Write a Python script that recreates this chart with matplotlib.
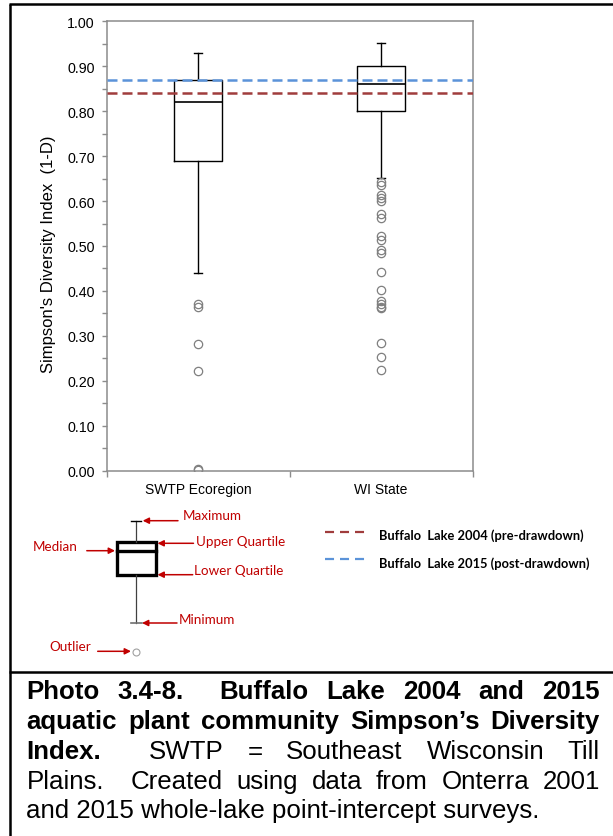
import numpy as np
import matplotlib.pyplot as plt
from matplotlib.patches import Rectangle

plt.rcParams['font.family'] = 'Liberation Sans'
plt.rcParams['lines.scale_dashes'] = False

# ---- data ----
groups = ['SWTP Ecoregion', 'WI State']
whisker_lo = [0.44, 0.651]
q1 = [0.69, 0.80]
median = [0.82, 0.86]
q3 = [0.87, 0.90]
whisker_hi = [0.93, 0.952]
swtp_outliers = [0.371, 0.364, 0.283, 0.222, 0.004, 0.001]
wi_outliers = [0.643, 0.636, 0.613, 0.606, 0.601, 0.571, 0.562, 0.522, 0.514,
               0.492, 0.484, 0.443, 0.401, 0.378, 0.371, 0.365, 0.361,
               0.285, 0.254, 0.223]
lake_2004 = 0.84   # pre-drawdown
lake_2015 = 0.87   # post-drawdown

RED = '#c00000'
C2004 = '#a03c3c'
C2015 = '#5b93d9'
W, H = 613, 837

fig = plt.figure(figsize=(W / 100, H / 100), dpi=100)

# overlay in pixel coords for frame, key diagram and caption
ov = fig.add_axes([0, 0, 1, 1])
ov.set_xlim(0, W)
ov.set_ylim(H, 0)
ov.axis('off')

ax = fig.add_axes([106.5 / W, (H - 471.7) / H, 366 / W, 449.4 / H])

stats = []
fliers = [swtp_outliers, wi_outliers]
for i, g in enumerate(groups):
    stats.append(dict(label=g, med=median[i], q1=q1[i], q3=q3[i],
                      whislo=whisker_lo[i], whishi=whisker_hi[i], fliers=fliers[i]))

ax.bxp(stats, positions=[1, 2], widths=0.26, capwidths=0.04, showfliers=True,
       boxprops=dict(color='black', lw=1.0),
       medianprops=dict(color='black', lw=1.2),
       whiskerprops=dict(color='black', lw=1.0),
       capprops=dict(color='black', lw=1.0),
       flierprops=dict(marker='o', mfc='none', mec='#7f7f7f', ms=6, mew=0.9, ls='none'))

ax.axhline(lake_2015, color=C2015, lw=1.8, dashes=(7.2, 3.6), zorder=5)
ax.axhline(lake_2004, color=C2004, lw=1.8, dashes=(7.2, 3.6), zorder=5)

ax.set_xlim(0.5, 2.5)
ax.set_ylim(0, 1.0)
ax.set_yticks(np.arange(0, 1.01, 0.1))
ax.set_yticks(np.arange(0.05, 1.0, 0.1), minor=True)
ax.yaxis.set_major_formatter(plt.FuncFormatter(lambda v, _: f'{v:.2f}'))
ax.set_xticks([1, 2], groups)
ax.set_xticks([0.5, 1.5, 2.5], minor=True)
ax.tick_params(axis='y', which='both', direction='out', length=3.5, width=1,
               color='#8c8c8c', labelsize=10.3, pad=5)
ax.tick_params(axis='x', which='major', length=0, labelsize=10, pad=8)
ax.tick_params(axis='x', which='minor', direction='out', length=4, width=1, color='#8c8c8c')
for s in ax.spines.values():
    s.set_color('#8c8c8c')
    s.set_linewidth(1.1)

fig.text(49 / W, 1 - 254 / H, "Simpson's Diversity Index  (1-D)", rotation=90,
         ha='center', va='center', fontsize=12)

# ---- frame ----
ov.plot([9, W], [5, 5], color='black', lw=1.8, solid_capstyle='butt')
ov.plot([10, 10], [5, H], color='black', lw=1.8, solid_capstyle='butt')
ov.plot([9, W], [673.3, 673.3], color='black', lw=1.8, solid_capstyle='butt')

# ---- box key diagram ----
ov.plot([136, 136], [521.7, 543.3], color='#404040', lw=0.9)
ov.plot([136, 136], [576, 624], color='#404040', lw=0.9)
ov.plot([131, 141], [521.7, 521.7], color='black', lw=1.0)
ov.plot([131, 141.5], [624, 624], color='#707070', lw=1.2)
ov.add_patch(Rectangle((116.5, 543.3), 39.9, 32.7, fill=False, ec='black', lw=2.4))
ov.plot([116.5, 156.4], [551.7, 551.7], color='black', lw=2.4)
ov.plot([136], [652.7], marker='o', mfc='none', mec='#a0a0a0', ms=5, mew=0.8)

arrow = dict(arrowstyle='-|>', color=RED, lw=1.1, mutation_scale=9, shrinkA=0, shrinkB=0)
key = [('Maximum', 182.6, 515.7, 178, 142.7, 521.7),
       ('Upper Quartile', 195.5, 541.7, 193.5, 157.5, 544.3),
       ('Lower Quartile', 194.3, 570.7, 192.7, 157.5, 575.7),
       ('Minimum', 179, 620.0, 177, 142.0, 624.0)]
for lab, tx, ty, x0, x1, ya in key:
    ov.annotate('', xy=(x1, ya), xytext=(x0, ya), arrowprops=arrow)
    ov.text(tx, ty, lab, color=RED, fontsize=9.7, family='Lato', ha='left', va='center')
ov.annotate('', xy=(115, 551.7), xytext=(86.8, 551.7), arrowprops=arrow)
ov.text(33.2, 546.7, 'Median', color=RED, fontsize=9.7, family='Lato', ha='left', va='center')
ov.annotate('', xy=(131, 652.3), xytext=(97.7, 652.3), arrowprops=arrow)
ov.text(49.6, 647.3, 'Outlier', color=RED, fontsize=9.7, family='Lato', ha='left', va='center')

# reference line key
ov.plot([325, 365.5], [532.7, 532.7], color=C2004, lw=1.6, dashes=(6.5, 4.3))
ov.plot([325, 365.5], [560.3, 560.3], color=C2015, lw=1.6, dashes=(6.5, 4.3))
ov.text(379, 535.7, 'Buffalo  Lake 2004 (pre-drawdown)', fontsize=9.3, family='Lato',
        weight='bold', ha='left', va='center')
ov.text(379, 563.3, 'Buffalo  Lake 2015 (post-drawdown)', fontsize=9.3, family='Lato',
        weight='bold', ha='left', va='center')

# ---- caption (justified) ----
cap_lines = [
    [('Photo', 'bold', 0), ('3.4-8.', 'bold', 1), ('Buffalo', 'bold', 2), ('Lake', 'bold', 1),
     ('2004', 'bold', 1), ('and', 'bold', 1), ('2015', 'bold', 1)],
    [('aquatic', 'bold', 0), ('plant', 'bold', 1), ('community', 'bold', 1),
     ('Simpson\u2019s', 'bold', 1), ('Diversity', 'bold', 1)],
    [('Index.', 'bold', 0), ('SWTP', 'normal', 2), ('=', 'normal', 1), ('Southeast', 'normal', 1),
     ('Wisconsin', 'normal', 1), ('Till', 'normal', 1)],
    [('Plains.', 'normal', 0), ('Created', 'normal', 2), ('using', 'normal', 1), ('data', 'normal', 1),
     ('from', 'normal', 1), ('Onterra', 'normal', 1), ('2001', 'normal', 1)],
]
baselines = [699.3, 729.3, 759.3, 789.0, 818.5]
cap_left, cap_right = 26.5, 600.0
cap_size = 18.6

renderer = fig.canvas.get_renderer()
for words, yb in zip(cap_lines, baselines):
    texts = [ov.text(0, yb, w, fontsize=cap_size, weight=wt, ha='left', va='baseline')
             for w, wt, _ in words]
    widths = [t.get_window_extent(renderer).width for t in texts]
    units = sum(u for _, _, u in words)
    gap = (cap_right - cap_left - sum(widths)) / units
    x = cap_left
    for t, wd, (_, _, u) in zip(texts, widths, words):
        x += u * gap
        t.set_x(x)
        x += wd
ov.text(cap_left, baselines[4], 'and 2015 whole-lake point-intercept surveys.',
        fontsize=cap_size, ha='left', va='baseline')

fig.savefig('out.png', dpi=100)
